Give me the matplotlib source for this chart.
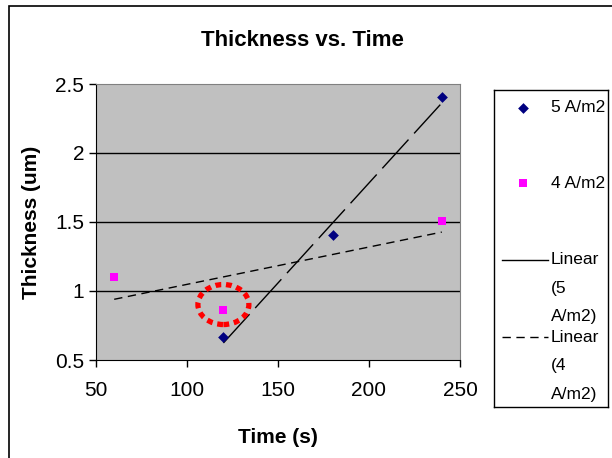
import numpy as np
import matplotlib
matplotlib.use("Agg")
import matplotlib.pyplot as plt
from matplotlib.patches import Ellipse, Rectangle
from matplotlib.lines import Line2D

# measured thickness for the two current densities
time_5 = [120, 180, 240]
thick_5 = [0.667, 1.406, 2.406]
time_4 = [60, 120, 240]
thick_4 = [1.10, 0.862, 1.507]

# point singled out on the chart
circled_time = 120
circled_thick = 0.862

x_ticks = [50, 100, 150, 200, 250]
y_ticks = [0.5, 1, 1.5, 2, 2.5]
y_tick_labels = ["0.5", "1", "1.5", "2", "2.5"]

plt.rcParams['font.family'] = ['Liberation Sans', 'DejaVu Sans']

fig = plt.figure(figsize=(6.12, 4.58), dpi=100)
W, H = 612, 458

# chart border
fig.add_artist(Rectangle((9 / W, -0.1), 1.0, (H - 6) / H + 0.1,
                         transform=fig.transFigure, fill=False,
                         edgecolor='black', lw=1.2))

ax = fig.add_axes([96 / W, 1 - 360 / H, (460 - 96) / W, (360 - 84) / H])
ax.set_facecolor('#C0C0C0')
ax.set_xlim(50, 250)
ax.set_ylim(0.5, 2.5)
ax.set_xticks(x_ticks)
ax.set_yticks(y_ticks)
ax.set_yticklabels(y_tick_labels)
ax.tick_params(direction='out', length=5, labelsize=15, width=1)
ax.tick_params(axis='x', pad=10)
for s in ['top', 'right']:
    ax.spines[s].set_color('#808080')
for s in ['left', 'bottom']:
    ax.spines[s].set_color('black')
for yv in y_ticks[1:-1]:
    ax.axhline(yv, color='black', lw=1, zorder=1)

# linear trend lines
c5 = np.polyfit(time_5, thick_5, 1)
c4 = np.polyfit(time_4, thick_4, 1)
xs5 = np.array([min(time_5), max(time_5)])
xs4 = np.array([min(time_4), max(time_4)])
ax.plot(xs5, np.polyval(c5, xs5), color='black', lw=1, dashes=(28, 6), zorder=2)
ax.plot(xs4, np.polyval(c4, xs4), color='black', lw=1, dashes=(6, 4), zorder=2)

ax.scatter(time_5, thick_5, marker='D', s=30, color='#000080', zorder=3, linewidths=0)
ax.scatter(time_4, thick_4, marker='s', s=36, color='#FF00FF', zorder=3, linewidths=0)

ax.add_patch(Ellipse((circled_time, circled_thick + 0.04), 28, 0.29, fill=False,
                     edgecolor='red', lw=3.8, linestyle=(0, (1.1, 0.9)), zorder=4))

fig.text((195 + 410) / 2 / W, 1 - 40 / H, "Thickness vs. Time", ha='center',
         va='center', fontsize=16, fontweight='bold')
ax.set_xlabel("Time (s)", fontsize=15, fontweight='bold', labelpad=20)
ax.set_ylabel("Thickness (um)", fontsize=15, fontweight='bold', labelpad=10)

# legend panel
lg = fig.add_axes([494 / W, 1 - 407 / H, (608 - 494) / W, (407 - 90) / H])
lg.set_xlim(494, 608)
lg.set_ylim(407, 90)
lg.set_xticks([])
lg.set_yticks([])
for s in lg.spines.values():
    s.set_color('black')
    s.set_linewidth(1)
lg.scatter([523], [108], marker='D', s=30, color='#000080', linewidths=0)
lg.scatter([523], [183], marker='s', s=36, color='#FF00FF', linewidths=0)
lg.add_line(Line2D([502, 548], [260, 260], color='black', lw=1))
lg.add_line(Line2D([502, 548], [337, 337], color='black', lw=1, dashes=(6, 4)))
entries = [(108, ["5 A/m2"]), (183, ["4 A/m2"]),
           (260, ["Linear", "(5", "A/m2)"]), (337, ["Linear", "(4", "A/m2)"])]
for y0, lines in entries:
    for i, t in enumerate(lines):
        lg.text(551, y0 + i * 28.5, t, fontsize=12.5, va='center', ha='left')

fig.savefig("out.png", dpi=100)
